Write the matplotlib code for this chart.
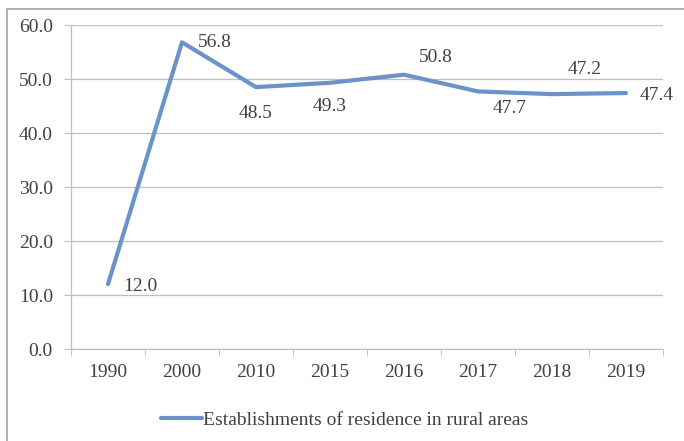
import matplotlib.pyplot as plt
from matplotlib.patches import Rectangle

years = ["1990", "2000", "2010", "2015", "2016", "2017", "2018", "2019"]
values = [12.0, 56.8, 48.5, 49.3, 50.8, 47.7, 47.2, 47.4]
series_name = "Establishments of residence in rural areas"

# label offsets from each point, in pixels (dx, dy)
label_offsets = [(15, -2), (16, 0), (0, -26), (0, -24), (32, 17), (32, -17), (33, 25), (14, -2)]

plt.rcParams["font.family"] = ["Liberation Serif", "DejaVu Serif"]
text_color = "#404040"
grid_color = "#BFBFBF"
line_color = "#6C93C9"
fs = 14

fig = plt.figure(figsize=(6.84, 4.41), dpi=100)
ax = fig.add_axes([0.1038, 0.2086, 0.8654, 0.7347])

x = list(range(len(years)))
ax.plot(x, values, color=line_color, lw=3.0, solid_joinstyle="round",
        solid_capstyle="round", label=series_name)

for xi, v, (dx, dy) in zip(x, values, label_offsets):
    ha = "left" if dx < 25 and dx > 0 else "center"
    ax.annotate(f"{v:.1f}", (xi, v), xytext=(dx, dy), textcoords="offset pixels",
                ha=ha, va="center", fontsize=fs, color=text_color)

ax.set_xlim(-0.5, len(years) - 0.5)
ax.set_ylim(0, 60)
ax.set_yticks(range(0, 61, 10))
ax.set_yticklabels([f"{t:.1f}" for t in range(0, 61, 10)])
ax.set_xticks(x)
ax.set_xticklabels(years)
ax.set_xticks([i + 0.5 for i in range(-1, len(years))], minor=True)
ax.tick_params(axis="x", which="major", length=0, pad=11, labelsize=fs, labelcolor=text_color)
ax.tick_params(axis="x", which="minor", length=5, color=grid_color, direction="out")
ax.tick_params(axis="y", length=5, color=grid_color, pad=8, labelsize=fs, labelcolor=text_color)

ax.grid(axis="y", color=grid_color, lw=0.9)
ax.set_axisbelow(True)
for s in ["top", "right"]:
    ax.spines[s].set_visible(False)
for s in ["left", "bottom"]:
    ax.spines[s].set_color(grid_color)
    ax.spines[s].set_linewidth(0.9)

leg = fig.legend(loc="center", bbox_to_anchor=(0.504, 0.047), frameon=False,
                 fontsize=fs, handlelength=2.1, handletextpad=0.05)
for t in leg.get_texts():
    t.set_color(text_color)

# outer chart border
fig.patches.append(Rectangle((0.0102, -0.05), 1.2, 1.0296, transform=fig.transFigure,
                             fill=False, edgecolor="#A6A6A6", lw=1.2))

fig.savefig("out.png", dpi=100)
